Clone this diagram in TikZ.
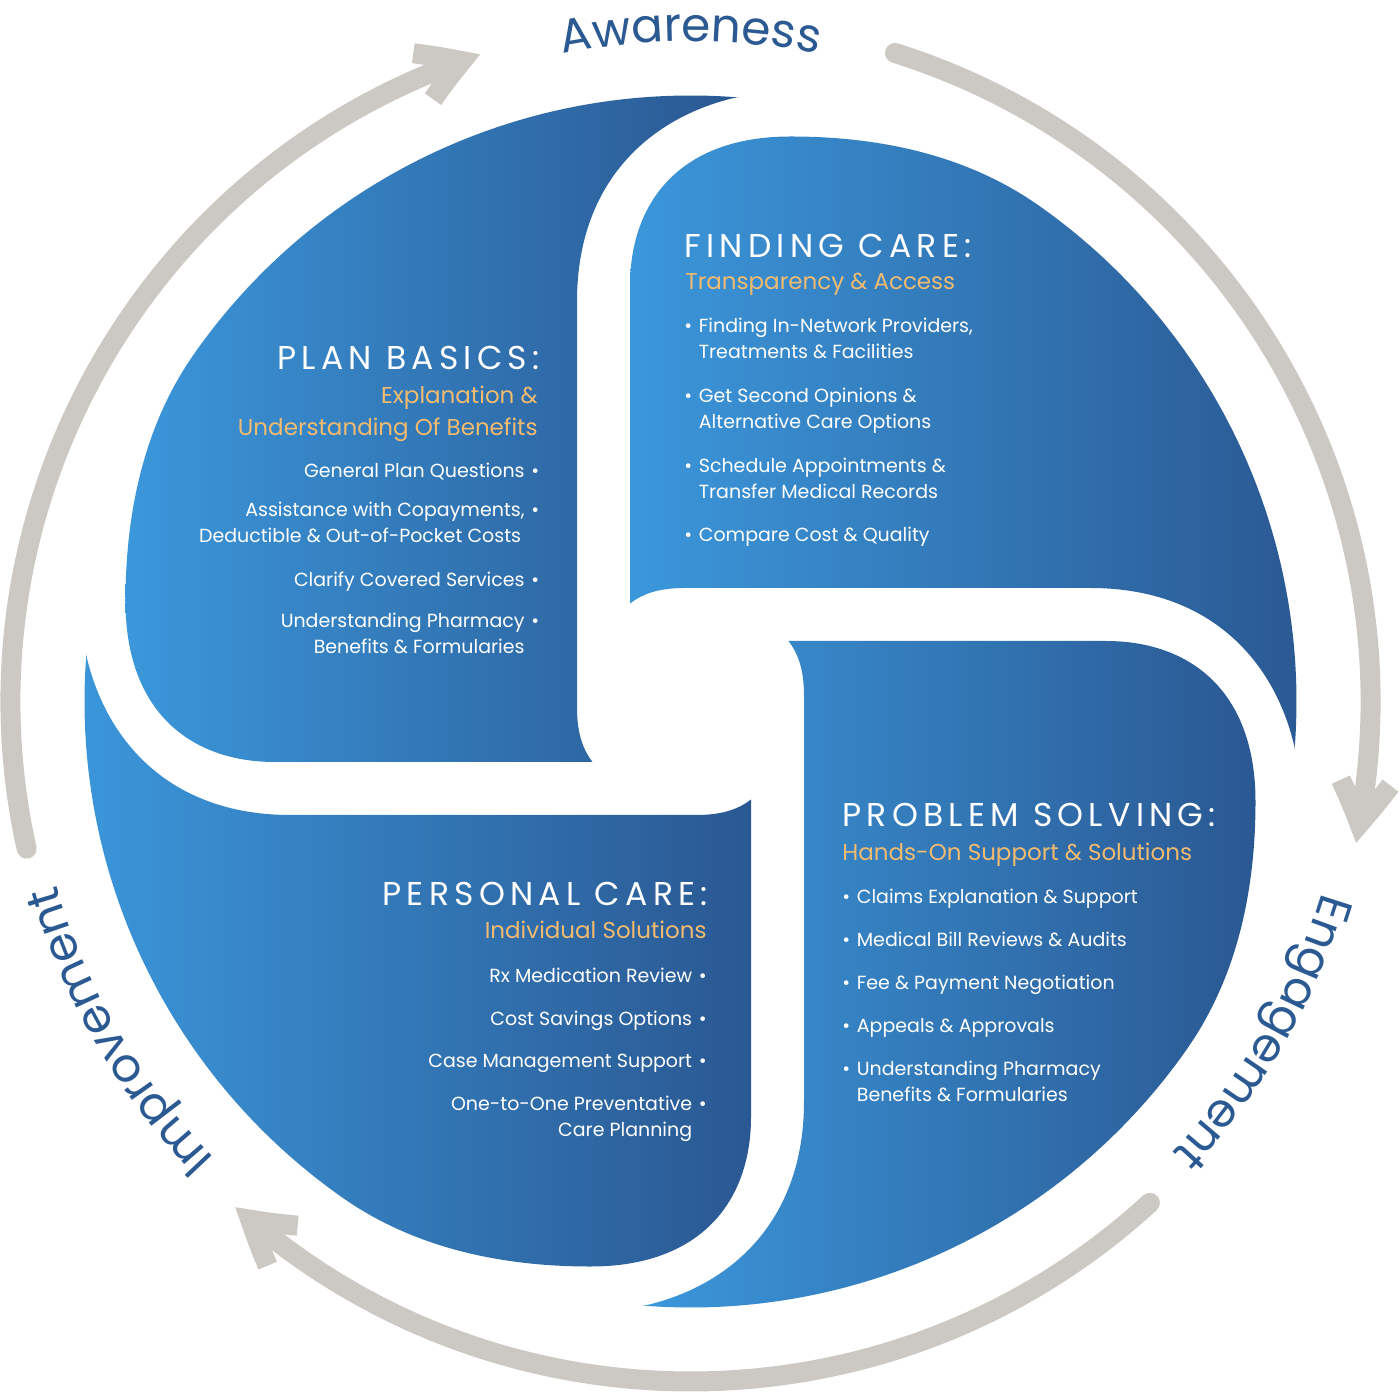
\documentclass[tikz,border=0pt]{standalone}
\usepackage{fontspec}
\setmainfont{Poppins}
\newfontfamily\spacedfont{Poppins}[LetterSpace=16]
\usetikzlibrary{arrows.meta,bending,decorations.text}

\definecolor{petalL}{RGB}{59,151,219}
\definecolor{petalD}{RGB}{42,88,146}
\definecolor{subgold}{RGB}{240,187,112}
\definecolor{ringgray}{RGB}{204,201,197}
\definecolor{labelblue}{RGB}{43,89,146}

\newcommand{\bul}{\hspace{0.35em}\textbullet}
\newcommand{\lbul}{\textbullet\hspace{0.35em}}
\newcommand{\labelsize}{\fontsize{23.5}{28}\selectfont}

\tikzset{
  petal/.style={left color=petalL, right color=petalD},
  petal outline/.style={insert path={(47.5,604.5) .. controls (-40,585) and (-113.5,520) .. (-113.5,400)
      -- (-113.5,-6) .. controls (-113.5,-35) and (-106,-50) .. (-98,-60.5)
      -- (-415.5,-60.5) .. controls (-500,-60.5) and (-565,-10) .. (-565,100)
      .. controls (-565,170) and (-553.8,265.7) .. (145:606)
      arc[start angle=145, end angle=85.5, radius=606] -- cycle}},
  ring/.style={draw=ringgray, line width=10pt, line cap=round,
      -{Straight Barb[bend,sharp,length=21pt,width=25pt]}},
  ttl/.style={text=white, inner sep=0pt, font=\spacedfont\fontsize{16.5}{18}\selectfont},
  sub/.style={text=subgold, inner sep=0pt, font=\fontsize{11.5}{16}\selectfont},
  itm/.style={text=white, inner sep=0pt, font=\fontsize{9.5}{13}\selectfont},
}

\begin{document}
\begin{tikzpicture}[x=0.5pt, y=0.5pt]
  \useasboundingbox (-690.5,-693.5) rectangle (709.5,701.5);

  % the four petals
  \foreach \r in {0,-90,-180,-270}
    \shade[petal, rotate=\r, petal outline];

  % outer cycle
  \draw[ring] (192.5:680) arc[start angle=192.5, end angle=108, radius=680];
  \draw[ring] (72.5:680) arc[start angle=72.5, end angle=-12, radius=680];
  \draw[ring] (-47.5:680) arc[start angle=-47.5, end angle=-132, radius=680];

  \path[decorate, decoration={text along path, text align=center, text color=labelblue,
      text={|\labelsize|Awareness}}] (150:660) arc[start angle=150, end angle=30, radius=660];
  \path[decorate, decoration={text along path, text align=center, text color=labelblue,
      text={|\labelsize|Engagement}}] (30:660) arc[start angle=30, end angle=-90, radius=660];
  \path[decorate, decoration={text along path, text align=center, text color=labelblue,
      text={|\labelsize|Improvement}}] (270:660) arc[start angle=270, end angle=150, radius=660];

  % plan basics
  \node[ttl, anchor=base east] (pbTitle) at (-150.5,331.5) {PLAN BASICS:};
  \node[sub, anchor=base east, align=right] (pbSub) at (-152.5,265.5) {Explanation \&\\Understanding Of Benefits};
  \node[itm, anchor=base east] (pbA) at (-151,223.5) {General Plan Questions\bul};
  \node[itm, anchor=base east, align=right] (pbB) at (-151,158.5) {Assistance with Copayments,\bul\\Deductible \& Out-of-Pocket Costs\hspace*{9pt}};
  \node[itm, anchor=base east] (pbC) at (-151,114.5) {Clarify Covered Services\bul};
  \node[itm, anchor=base east, align=right] (pbD) at (-151,47.5) {Understanding Pharmacy\bul\\Benefits \& Formularies\phantom{\bul}};

  % finding care
  \node[ttl, anchor=base west] (fcTitle) at (-6.5,443.5) {FINDING CARE:};
  \node[sub, anchor=base west] (fcSub) at (-5.5,411.5) {Transparency \& Access};
  \node[itm, anchor=base west, align=left] (fcA) at (-6.5,342.5) {\lbul Finding In-Network Providers,\\\phantom{\lbul}Treatments \& Facilities};
  \node[itm, anchor=base west, align=left] (fcB) at (-6.5,272.5) {\lbul Get Second Opinions \&\\\phantom{\lbul}Alternative Care Options};
  \node[itm, anchor=base west, align=left] (fcC) at (-6.5,202.5) {\lbul Schedule Appointments \&\\\phantom{\lbul}Transfer Medical Records};
  \node[itm, anchor=base west] (fcD) at (-6.5,159.5) {\lbul Compare Cost \& Quality};

  % problem solving
  \node[ttl, anchor=base west] (psTitle) at (151.5,-125.5) {PROBLEM SOLVING:};
  \node[sub, anchor=base west] (psSub) at (151.5,-158.5) {Hands-On Support \& Solutions};
  \node[itm, anchor=base west] (psA) at (151.5,-201.5) {\lbul Claims Explanation \& Support};
  \node[itm, anchor=base west] (psB) at (151.5,-244.5) {\lbul Medical Bill Reviews \& Audits};
  \node[itm, anchor=base west] (psC) at (151.5,-287.5) {\lbul Fee \& Payment Negotiation};
  \node[itm, anchor=base west] (psD) at (151.5,-330.5) {\lbul Appeals \& Approvals};
  \node[itm, anchor=base west, align=left] (psE) at (151.5,-399.5) {\lbul Understanding Pharmacy\\\phantom{\lbul}Benefits \& Formularies};

  % personal care
  \node[ttl, anchor=base east] (pcTitle) at (17.5,-203.5) {PERSONAL CARE:};
  \node[sub, anchor=base east] (pcSub) at (16.5,-236.5) {Individual Solutions};
  \node[itm, anchor=base east] (pcA) at (16.5,-280.5) {Rx Medication Review\bul};
  \node[itm, anchor=base east] (pcB) at (16.5,-323.5) {Cost Savings Options\bul};
  \node[itm, anchor=base east] (pcC) at (16.5,-365.5) {Case Management Support\bul};
  \node[itm, anchor=base east, align=right] (pcD) at (16.5,-434.5) {One-to-One Preventative\bul\\Care Planning\phantom{\bul}};
\end{tikzpicture}
\end{document}
